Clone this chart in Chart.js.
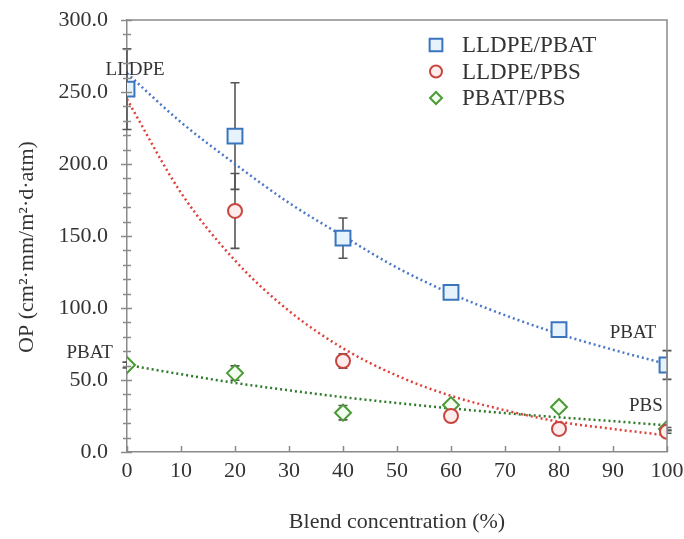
<!DOCTYPE html>
<html><head><meta charset="utf-8">
<script src="https://cdn.jsdelivr.net/npm/chart.js@4/dist/chart.umd.min.js"></script>
<style>html,body{margin:0;padding:0;background:#fff;}#wrap{width:684px;height:539px;}</style>
</head><body><div id="wrap"><canvas id="c" width="684" height="539"></canvas></div>
<script>
// ---- data ----
const concentrations = [0, 20, 40, 60, 80, 100];
const lldpePbat    = [252, 219.4, 148.5, 110.8, 85, 60.4];
const lldpePbatErr = [28, 37, 14, 3, 3, 10];
const lldpePbs     = [252, 167.4, 63.2, 25, 16, 14];
const lldpePbsErr  = [0, 26, 5, 2, 2, 1];
const pbatPbs      = [60.4, 54.8, 27.3, 32.6, 31.3, 16];
const pbatPbsErr   = [2, 5, 5, 2, 3, 1];
const trendX          = [0, 10, 20, 30, 40, 50, 60, 70, 80, 90, 100];
const lldpePbatTrend  = [263, 229, 200, 173, 150, 128, 110, 95, 82, 71, 61];
const lldpePbsTrend   = [245, 180, 133, 98, 72, 53, 39, 29, 21, 16, 11.5];
const pbatPbsTrend    = [60.5, 54, 48, 42.8, 38.1, 34, 30.3, 27, 24.1, 21.4, 18.5];
const seriesLabels = ['LLDPE/PBAT', 'LLDPE/PBS', 'PBAT/PBS'];
const annotationTexts = ['LLDPE', 'PBAT', 'PBAT', 'PBS'];
const annotationX = [1.5, -6.9, 93.7, 96.1];
const annotationY = [265, 68.5, 82.5, 32];
const yMinorStep = 10;

const FONT = '"Liberation Serif", "Times New Roman", serif';
const TXT = '#333';
const AXIS = '#8a8a8a';
const styles = [
  {stroke: '#3a74bd', fill: '#e6f2fc', shape: 'rect', r: 10.5, trend: '#4a78c8'},
  {stroke: '#c8453f', fill: '#fcecec', shape: 'circle', r: 7, trend: '#e0403a'},
  {stroke: '#4b9a35', fill: '#f2fcef', shape: 'rectRot', r: 8, trend: '#2f7a2a'}
];
const seriesVals = [lldpePbat, lldpePbs, pbatPbs];
const seriesErr = [lldpePbatErr, lldpePbsErr, pbatPbsErr];
const trends = [lldpePbatTrend, lldpePbsTrend, pbatPbsTrend];

const datasets = [];
seriesVals.forEach((vals, i) => {
  datasets.push({
    label: seriesLabels[i],
    data: concentrations.map((x, j) => ({x, y: vals[j]})),
    showLine: false,
    pointStyle: styles[i].shape,
    pointRadius: styles[i].r,
    pointBorderWidth: 2,
    pointBorderColor: styles[i].stroke,
    pointBackgroundColor: styles[i].fill,
    order: 1
  });
});
trends.forEach((vals, i) => {
  datasets.push({
    label: seriesLabels[i] + ' trend',
    data: trendX.map((x, j) => ({x, y: vals[j]})),
    showLine: true,
    pointRadius: 0,
    borderColor: styles[i].trend,
    borderWidth: 2.5,
    borderDash: [2, 3],
    cubicInterpolationMode: 'monotone',
    fill: false,
    order: 2
  });
});

const errorBars = {
  id: 'errorBars',
  beforeDatasetsDraw(chart) {
    const {ctx, scales: {x, y}} = chart;
    ctx.save();
    ctx.strokeStyle = '#555';
    ctx.lineWidth = 1.6;
    seriesVals.forEach((vals, i) => {
      vals.forEach((v, j) => {
        const e = seriesErr[i][j];
        if (!e) return;
        const px = x.getPixelForValue(concentrations[j]);
        const top = y.getPixelForValue(v + e), bot = y.getPixelForValue(v - e);
        ctx.beginPath();
        ctx.moveTo(px, top); ctx.lineTo(px, bot);
        ctx.moveTo(px - 4.5, top); ctx.lineTo(px + 4.5, top);
        ctx.moveTo(px - 4.5, bot); ctx.lineTo(px + 4.5, bot);
        ctx.stroke();
      });
    });
    ctx.restore();
  }
};

function drawMarker(ctx, st, cx, cy) {
  ctx.save();
  ctx.strokeStyle = st.stroke; ctx.fillStyle = st.fill; ctx.lineWidth = 2;
  ctx.beginPath();
  if (st.shape === 'rect') { const h = st.r * Math.SQRT1_2; ctx.rect(cx - h, cy - h, 2 * h, 2 * h); }
  else if (st.shape === 'circle') { ctx.arc(cx, cy, st.r, 0, Math.PI * 2); }
  else { ctx.moveTo(cx, cy - st.r); ctx.lineTo(cx + st.r, cy); ctx.lineTo(cx, cy + st.r); ctx.lineTo(cx - st.r, cy); ctx.closePath(); }
  ctx.fill(); ctx.stroke();
  ctx.restore();
}

const frame = {
  id: 'frame',
  afterDatasetsDraw(chart) {
    const {ctx, chartArea: a, scales: {x, y}} = chart;
    ctx.save();
    ctx.strokeStyle = AXIS; ctx.lineWidth = 1.5;
    ctx.beginPath();
    ctx.moveTo(a.left, a.top); ctx.lineTo(a.right, a.top); ctx.lineTo(a.right, a.bottom);
    ctx.stroke();
    ctx.beginPath();
    for (let v = y.min; v <= y.max + 1e-6; v += yMinorStep) {
      const py = Math.round(y.getPixelForValue(v)) + 0.5;
      const major = Math.abs(v % 50) < 1e-6;
      const l = major ? 6 : 4, r = major ? 5 : 4;
      ctx.moveTo(a.left - l, py); ctx.lineTo(a.left + r, py);
    }
    x.ticks.forEach(t => {
      const px = Math.round(x.getPixelForValue(t.value)) + 0.5;
      ctx.moveTo(px, a.bottom); ctx.lineTo(px, a.bottom - 6);
    });
    ctx.stroke();
    ctx.fillStyle = TXT;
    ctx.font = '19px ' + FONT;
    ctx.textAlign = 'center'; ctx.textBaseline = 'middle';
    annotationTexts.forEach((t, i) => {
      ctx.fillText(t, x.getPixelForValue(annotationX[i]), y.getPixelForValue(annotationY[i]));
    });
    const lx = a.right - 231, ly = a.top + 25, gap = 26.5;
    ctx.font = '23px ' + FONT; ctx.textAlign = 'left';
    seriesLabels.forEach((lab, i) => {
      const cy = ly + i * gap;
      drawMarker(ctx, Object.assign({}, styles[i], {r: styles[i].shape === 'rect' ? 9 : 6}), lx, cy);
      ctx.fillStyle = TXT;
      ctx.fillText(lab, lx + 26, cy + 1);
    });
    ctx.restore();
  }
};

new Chart(document.getElementById('c'), {
  type: 'scatter',
  data: {datasets},
  options: {
    responsive: false,
    animation: false,
    devicePixelRatio: 1,
    layout: {padding: {left: 0, right: 17, top: 20, bottom: 0}},
    plugins: {legend: {display: false}, tooltip: {enabled: false}},
    scales: {
      x: {
        type: 'linear', min: 0, max: 100,
        ticks: {stepSize: 10, padding: 6, color: TXT, font: {family: FONT, size: 22}},
        grid: {drawOnChartArea: false, drawTicks: false},
        border: {display: true, color: AXIS, width: 1.5},
        title: {display: true, text: 'Blend concentration (%)', color: TXT, font: {family: FONT, size: 22}, padding: {top: 0, bottom: 4}},
        afterFit: s => { s.height = 87; s.paddingLeft = 0; s.paddingRight = 0; }
      },
      y: {
        type: 'linear', min: 0, max: 300,
        ticks: {stepSize: 50, padding: 19, color: TXT, font: {family: FONT, size: 22}, callback: v => Number(v).toFixed(1)},
        grid: {drawOnChartArea: false, drawTicks: false},
        border: {display: true, color: AXIS, width: 1.5},
        title: {display: true, text: 'OP (cm²·mm/m²·d·atm)\u2002\u2002', color: TXT, font: {family: FONT, size: 22}, padding: {top: 14, bottom: 0}},
        afterFit: s => { s.width = 127; s.paddingTop = 0; s.paddingBottom = 0; }
      }
    }
  },
  plugins: [errorBars, frame]
});
</script></body></html>
